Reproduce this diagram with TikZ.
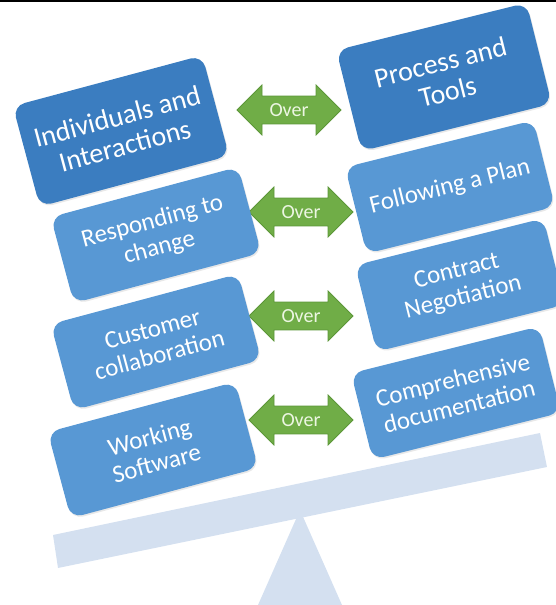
\documentclass[tikz,border=0pt]{standalone}
\usepackage{fontspec}
\setmainfont{Carlito}
\usetikzlibrary{shapes.arrows,shadows}
\definecolor{agdark}{RGB}{59,125,192}
\definecolor{aglight}{RGB}{88,152,212}
\definecolor{aggreen}{RGB}{112,173,71}
\definecolor{aggreenline}{RGB}{92,150,56}
\definecolor{agbeam}{RGB}{212,224,240}
\definecolor{agovertext}{RGB}{236,246,226}

\begin{document}
\begin{tikzpicture}[x=1pt,y=1pt,
  valbox/.style={fill=aglight,text=white,rounded corners=12pt,
        minimum width=194pt,minimum height=89pt,align=center,inner sep=2pt,
        drop shadow={opacity=0.18,shadow xshift=1pt,shadow yshift=-1.5pt},
        font=\fontsize{25}{27}\selectfont},
  topbox/.style={valbox,fill=agdark,minimum width=196pt,minimum height=104pt,
        font=\fontsize{28}{30}\selectfont},
  overarrow/.style={double arrow,fill=aggreen,draw=aggreenline,line width=0.8pt,
        text=agovertext,minimum height=104pt,minimum width=50pt,
        double arrow head extend=11pt,inner xsep=2pt,inner ysep=7pt,
        font=\fontsize{20}{22}\selectfont}]
  \useasboundingbox (0,0) rectangle (556,605);
  \fill[black] (0,602.5) rectangle (556,605);

  % seesaw
  \fill[agbeam] (258,0) -- (300,95) -- (342,0) -- cycle;
  \fill[agbeam] (58,37) -- (547,138) -- (540,172) -- (53,70) -- cycle;

  % over arrows
  \node[overarrow] (o1) at (289,495) {Over};
  \node[overarrow] (o2) at (301,393) {Over};
  \node[overarrow] (o3) at (301,289) {Over};
  \node[overarrow] (o4) at (301,185) {Over};

  % left values
  \node[topbox,rotate=15] (ind) at (121,474) {Individuals and\\Interactions};
  \node[valbox,rotate=15] (resp) at (156,370) {Responding to\\change};
  \node[valbox,rotate=15] (cust) at (156,263) {Customer\\collaboration};
  \node[valbox,rotate=15] (work) at (153,155) {Working\\Software};

  % right values
  \node[topbox,rotate=14] (proc) at (444,528) {Process and\\Tools};
  \node[valbox,rotate=14] (plan) at (450,418) {Following a Plan};
  \node[valbox,rotate=14] (contr) at (460,320) {Contract\\Negotiation};
  \node[valbox,rotate=14] (docu) at (456,212) {Comprehensive\\documentation};
\end{tikzpicture}
\end{document}
